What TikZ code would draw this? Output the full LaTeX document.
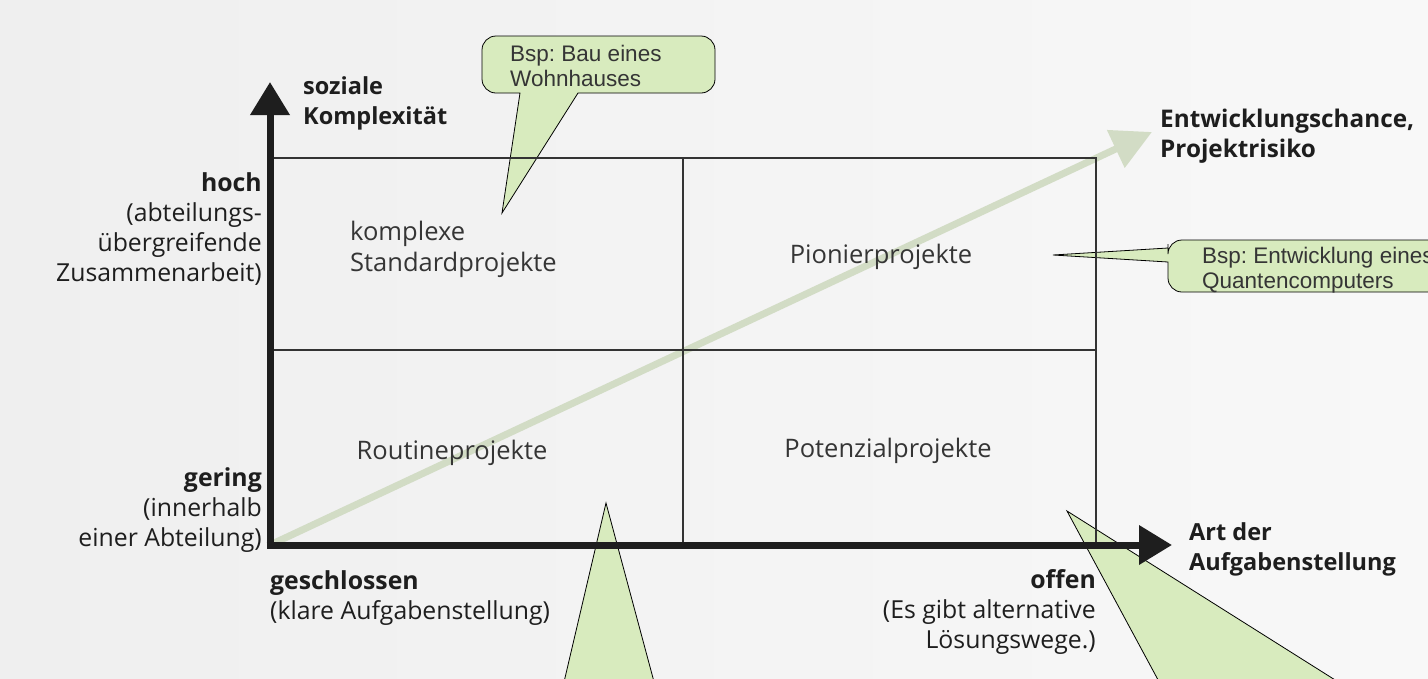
\documentclass[tikz,border=0pt]{standalone}
\usepackage{fontspec}
\setmainfont{Liberation Sans}
\newfontfamily\frut{Open Sans}
\usetikzlibrary{arrows.meta,calc}
\definecolor{bgL}{HTML}{EFEFEF}
\definecolor{bgR}{HTML}{F8F8F8}
\definecolor{calgreen}{HTML}{D8EBBE}
\definecolor{diag}{HTML}{D2DCC5}
\definecolor{ink}{HTML}{1E1E1E}
\tikzset{
  lab/.style={inner sep=0, text=ink, font=\frut\fontsize{24.8}{30}\selectfont},
  labb/.style={inner sep=0, text=ink, font=\frut\bfseries\fontsize{23.5}{30}\selectfont},
  quad/.style={inner sep=0, text=ink!90, font=\frut\fontsize{25.5}{31}\selectfont},
  calltext/.style={inner sep=0, text=ink!90, align=left, font=\frenchspacing\fontsize{22.5}{25}\selectfont},
  callout/.style={fill=calgreen, draw=black, line width=0.8},
  gridline/.style={draw=black!80, line width=1.8},
  axisline/.style={draw=ink, line width=7},
  axishead/.style={-{Triangle[length=33,width=38]}},
  diagarrow/.style={draw=diag, line width=7, -{Triangle[length=40,width=40]}}
}
\begin{document}
\begin{tikzpicture}[x=1pt,y=-1pt]
\useasboundingbox (0,0) rectangle (1428,678);
\clip (0,0) rectangle (1428,678);
\shade[left color=bgL, right color=bgR] (0,0) rectangle (1428,678);

% coordinates
\coordinate (O) at (270,545);
\coordinate (Ytip) at (270,82);
\coordinate (Xtip) at (1172,545);
\coordinate (TL) at (270,158);
\coordinate (TR) at (1096,158);
\coordinate (BR) at (1096,545);
\coordinate (MT) at (683,158);
\coordinate (MB) at (683,545);
\coordinate (ML) at (270,350);
\coordinate (MR) at (1096,350);
\coordinate (Dtip) at (1152,132);

% callouts (behind lines)
\path[callout] (520,93) -- (502,213) -- (578,93) -- (600,93)
  [rounded corners=14] -- (715,93) -- (715,36) -- (482,36) -- (482,93)
  [sharp corners] -- (500,93) -- cycle;
\path[callout] (1168,248) -- (1053,255) -- (1168,262) -- (1168,270)
  [rounded corners=14] -- (1168,292) -- (1460,292) -- (1460,240) -- (1168,240)
  [sharp corners] -- (1168,244) -- cycle;
\coordinate (C3tip) at (606,503);
\path[callout] (559.8,700) -- (C3tip) -- (658.9,700) -- cycle;
\coordinate (C4tip) at (1067,511);
\path[callout] (1168.9,700) -- (C4tip) -- (1366.9,700) -- cycle;

% diagonal arrow
\draw[diagarrow] (O) -- (Dtip);

% grid
\draw[gridline] (TL) -- (TR) -- (BR);
\draw[gridline] (MT) -- (MB);
\draw[gridline] (ML) -- (MR);

% axes
\draw[axisline, axishead] ($(O)+(0,3.5)$) -- (Ytip);
\draw[axisline, axishead] ($(O)+(-3.5,0)$) -- (Xtip);

% callout texts
\node[calltext, anchor=north west] (c1) at (510,45) {Bsp: Bau eines\\Wohnhauses};
\node[calltext, anchor=north west] (c2) at (1202,247) {Bsp: Entwicklung eines\\Quantencomputers};

% axis labels
\node[labb, anchor=north west, align=left] (ylab) at (303,76) {soziale\\Komplexität};
\node[labb, anchor=north west, align=left, font=\frut\bfseries\fontsize{24.3}{30}\selectfont] (dlab) at (1160,109) {Entwicklungschance,\\Projektrisiko};
\node[labb, anchor=north west, align=left] (xlab) at (1189,522) {Art der\\Aufgabenstellung};

\node[lab, anchor=north east, align=right] (hoch) at (262,172) {\textbf{hoch}\\(abteilungs-\\übergreifende\\Zusammenarbeit)};
\node[lab, anchor=north east, align=right] (gering) at (262,467) {\textbf{gering}\\(innerhalb\\einer Abteilung)};
\node[lab, anchor=north west, align=left] (geschl) at (270,570) {\textbf{geschlossen}\\(klare Aufgabenstellung)};
\node[lab, anchor=north east, align=right] (offen) at (1096,569) {\textbf{offen}\\(Es gibt alternative\\Lösungswege.)};

% quadrant labels
\node[quad, anchor=north west, align=left] (q1) at (350,221) {komplexe\\Standardprojekte};
\node[quad] (q2) at (881,257) {Pionierprojekte};
\node[quad] (q3) at (452,453) {Routineprojekte};
\node[quad] (q4) at (888,451) {Potenzialprojekte};
\end{tikzpicture}
\end{document}
